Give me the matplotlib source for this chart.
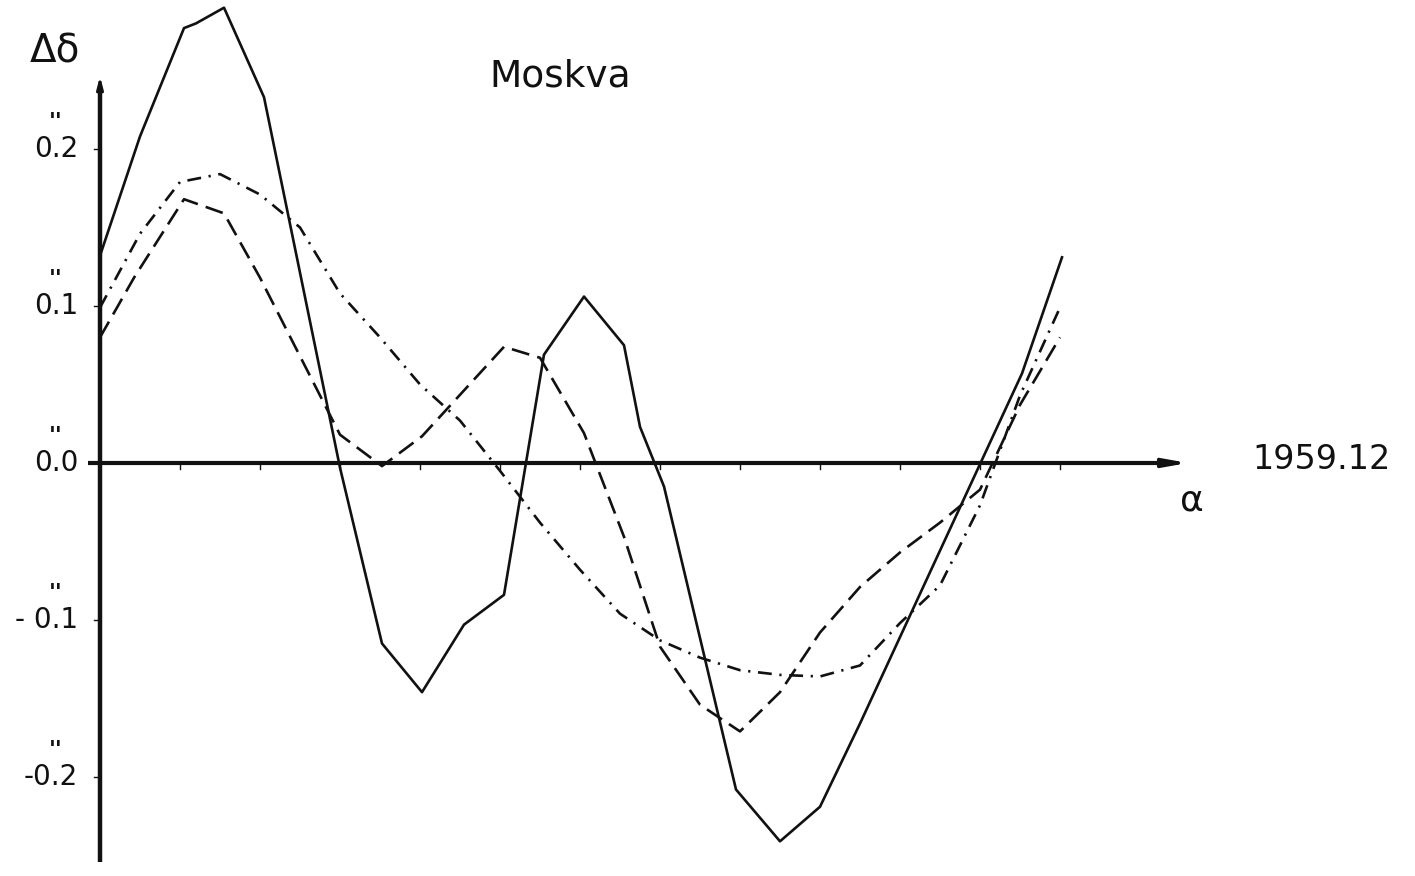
import matplotlib
matplotlib.use("Agg")
import matplotlib.pyplot as plt

plt.rcParams["font.family"] = ["DejaVu Sans"]
plt.rcParams["lines.scale_dashes"] = False

# Declination residuals (arcsec) against right ascension (hours), Moskva 1959.12
ra_solid = [0, 1, 2.1, 2.4, 3.1, 4.1, 6.0, 7.05, 8.05, 9.1, 10.1, 11.1, 12.1, 13.1,
            13.5, 14.1, 15.9, 17.0, 18.0, 19.0, 22.05, 23.05, 24.05]
dd_solid = [0.132, 0.208, 0.277, 0.280, 0.290, 0.233, -0.003, -0.115, -0.146, -0.103,
            -0.084, 0.069, 0.106, 0.075, 0.023, -0.015, -0.208, -0.241, -0.219, -0.166,
            0.002, 0.057, 0.131]

ra_dashed = [0, 0.85, 2.1, 3.1, 4.0, 6.0, 7.05, 8.05, 10.1, 11.0, 12.1, 13.1, 14.0,
             15.0, 16.0, 17.0, 18.0, 19.0, 20.0, 21.0, 22.0, 23.0, 24.0]
dd_dashed = [0.080, 0.118, 0.168, 0.159, 0.118, 0.018, -0.002, 0.017, 0.074, 0.067,
             0.019, -0.047, -0.117, -0.154, -0.171, -0.146, -0.108, -0.079, -0.057,
             -0.038, -0.017, 0.037, 0.080]

ra_dashdot = list(range(0, 25))
dd_dashdot = [0.099, 0.146, 0.179, 0.184, 0.171, 0.150, 0.108, 0.080, 0.050, 0.027,
              -0.005, -0.038, -0.068, -0.096, -0.113, -0.124, -0.132, -0.135, -0.136,
              -0.129, -0.102, -0.078, -0.027, 0.043, 0.099]

y_tick_values = [0.2, 0.1, 0.0, -0.1, -0.2]
y_tick_labels = ["0.2", "0.1", "0.0", "- 0.1", "-0.2"]
x_tick_hours = list(range(2, 25, 2))

W, H, DPI = 1415, 876, 100
fig = plt.figure(figsize=(W / DPI, H / DPI), dpi=DPI)
ax = fig.add_axes([0, 0, 1, 1])
ax.set_xlim(-2.5, 32.875)
ax.set_ylim(-0.2631, 0.2949)
ax.axis("off")

ink = "#111111"

# hand-drawn style axes with arrow heads
ax.plot([-0.3, 26.5], [0, 0], color=ink, lw=3.0, solid_capstyle="butt", zorder=3)
ax.annotate("", xy=(27.2, 0), xytext=(26.3, 0),
            arrowprops=dict(arrowstyle="-|>,head_length=1.4,head_width=0.25",
                            color=ink, lw=2.5, shrinkA=0, shrinkB=0), zorder=3)
ax.plot([0, 0], [-0.254, 0.236], color=ink, lw=3.2, solid_capstyle="butt", zorder=3)
ax.annotate("", xy=(0, 0.2465), xytext=(0, 0.22),
            arrowprops=dict(arrowstyle="->,head_length=0.7,head_width=0.18",
                            color=ink, lw=2.2, shrinkA=0, shrinkB=0), zorder=3)

for h in x_tick_hours:
    ax.plot([h, h], [0, -0.004], color=ink, lw=1.0)
for v, lab in zip(y_tick_values, y_tick_labels):
    if v != 0:
        ax.plot([-0.15, 0], [v, v], color=ink, lw=1.0)
    ax.text(-0.55, v, lab, ha="right", va="center", fontsize=20, color=ink)
    ax.text(-1.1, v + 0.017, "''", ha="center", va="center", fontsize=16,
            fontweight="bold", color=ink)

# the three residual curves
ax.plot(ra_solid, dd_solid, color=ink, lw=1.9, zorder=4)
ax.plot(ra_dashed, dd_dashed, color=ink, lw=1.9, dashes=(13, 6), zorder=4)
ax.plot(ra_dashdot, dd_dashdot, color=ink, lw=1.9, dashes=(10, 5.5, 1.6, 5.5), zorder=4)

ax.text(-1.125, 0.2618, "\u0394\u03b4", ha="center", va="center", fontsize=28, color=ink)
ax.text(11.5, 0.2459, "Moskva", ha="center", va="center", fontsize=27, color=ink)
ax.text(30.55, 0.0019, "1959.12", ha="center", va="center", fontsize=24, color=ink)
ax.text(27.3, -0.0236, "\u03b1", ha="center", va="center", fontsize=26, color=ink)

fig.savefig("out.png", dpi=DPI, facecolor="white")
